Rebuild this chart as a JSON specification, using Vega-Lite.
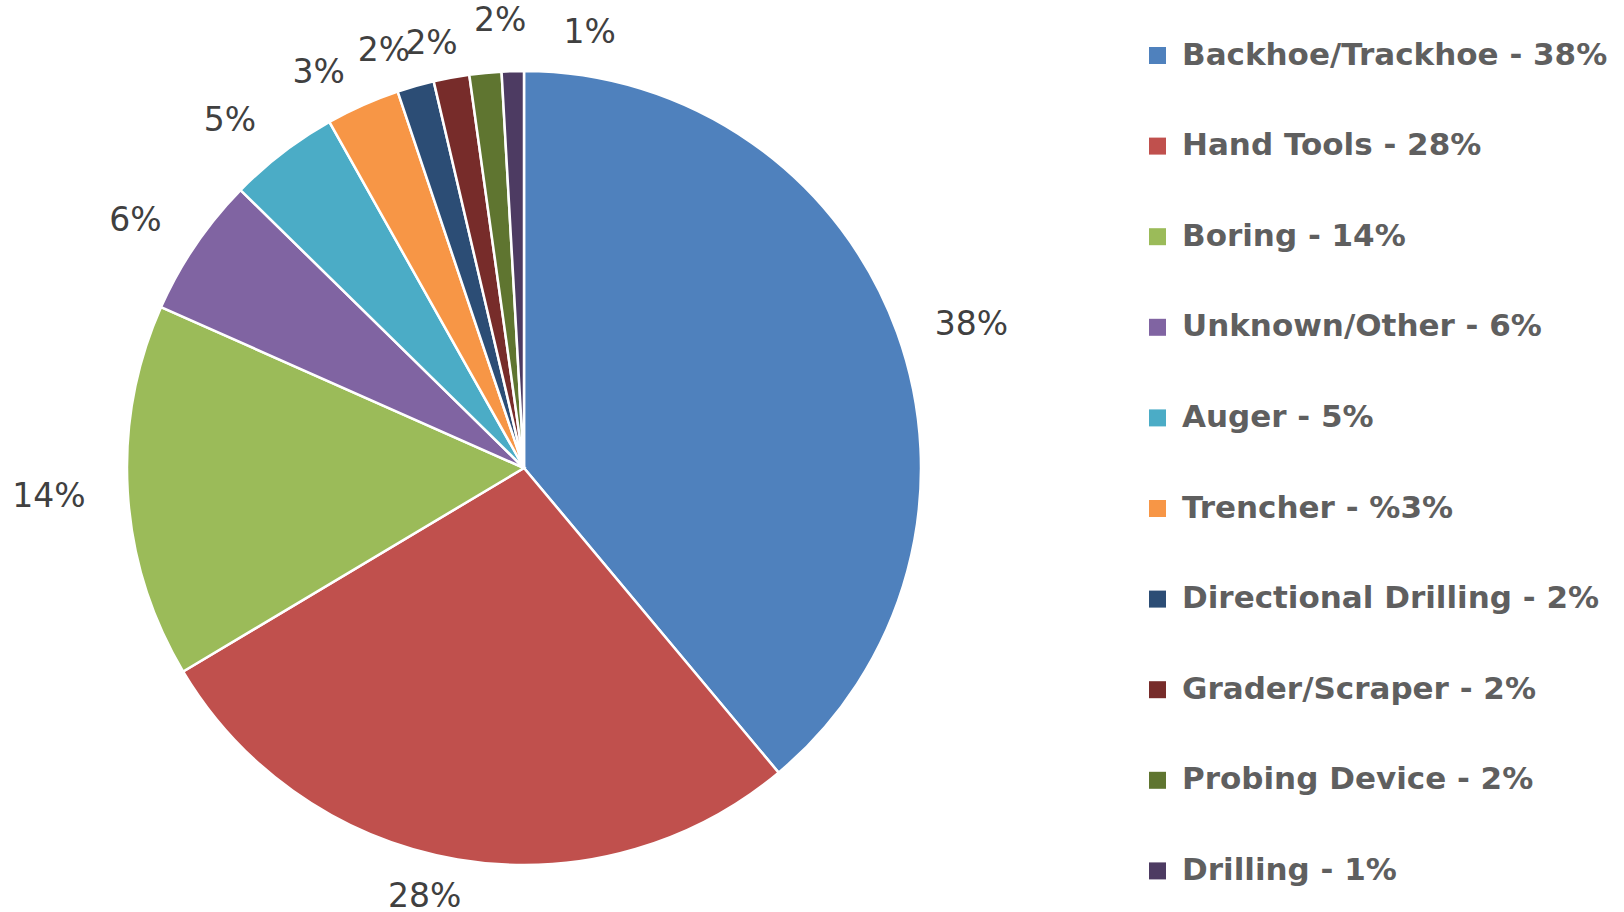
{
  "$schema": "https://vega.github.io/schema/vega-lite/v6.json",
  "width": 1048,
  "height": 936,
  "autosize": {"type": "none"},
  "padding": {"left": 0, "top": 0, "right": 576, "bottom": 0},
  "background": "white",
  "config": {"view": {"stroke": null}, "text": {"font": "DejaVu Sans", "fontSize": 33, "fill": "#404040", "align": "center", "baseline": "middle"}},
  "data": {
    "values": [
      {"rank": 1, "category": "Backhoe/Trackhoe - 38%", "value": 38.9, "label": "38%"},
      {"rank": 2, "category": "Hand Tools - 28%", "value": 27.5, "label": "28%"},
      {"rank": 3, "category": "Boring - 14%", "value": 15.2, "label": "14%"},
      {"rank": 4, "category": "Unknown/Other - 6%", "value": 5.7, "label": "6%"},
      {"rank": 5, "category": "Auger - 5%", "value": 4.5, "label": "5%"},
      {"rank": 6, "category": "Trencher - %3%", "value": 3.0, "label": "3%"},
      {"rank": 7, "category": "Directional Drilling - 2%", "value": 1.5, "label": "2%"},
      {"rank": 8, "category": "Grader/Scraper - 2%", "value": 1.45, "label": "2%"},
      {"rank": 9, "category": "Probing Device - 2%", "value": 1.3, "label": "2%"},
      {"rank": 10, "category": "Drilling - 1%", "value": 0.9, "label": "1%"}
    ]
  },
  "encoding": {
    "theta": {"field": "value", "type": "quantitative", "stack": true},
    "order": {"field": "rank", "type": "quantitative"},
    "color": {
      "field": "category",
      "type": "nominal",
      "scale": {
        "domain": ["Backhoe/Trackhoe - 38%", "Hand Tools - 28%", "Boring - 14%", "Unknown/Other - 6%", "Auger - 5%", "Trencher - %3%", "Directional Drilling - 2%", "Grader/Scraper - 2%", "Probing Device - 2%", "Drilling - 1%"],
        "range": ["#4F81BD", "#C0504D", "#9BBB59", "#8064A2", "#4BACC6", "#F79646", "#2C4D75", "#772C2A", "#5F7530", "#4D3B62"]
      },
      "legend": {
        "title": null,
        "orient": "none",
        "legendX": 1142,
        "legendY": 40,
        "padding": 0,
        "symbolType": "square",
        "symbolSize": 289,
        "symbolStrokeWidth": 0,
        "labelOffset": 9,
        "labelFont": "DejaVu Sans",
        "labelFontWeight": "bold",
        "labelFontSize": 31,
        "labelColor": "#5F5F5F",
        "labelLimit": 0,
        "rowPadding": 58.6
      }
    }
  },
  "layer": [
    {
      "mark": {"type": "arc", "outerRadius": 397, "stroke": "white", "strokeWidth": 2.5}
    },
    {
      "mark": {"type": "text", "radius": 476, "dy": 19},
      "encoding": {"text": {"condition": {"test": "datum.rank == 1", "field": "label", "type": "nominal"}, "value": ""}, "color": {"value": "#404040"}}
    },
    {
      "mark": {"type": "text", "radius": 432, "dx": -27, "dy": 3},
      "encoding": {"text": {"condition": {"test": "datum.rank == 2", "field": "label", "type": "nominal"}, "value": ""}, "color": {"value": "#404040"}}
    },
    {
      "mark": {"type": "text", "radius": 476},
      "encoding": {"text": {"condition": {"test": "datum.rank == 3", "field": "label", "type": "nominal"}, "value": ""}, "color": {"value": "#404040"}}
    },
    {
      "mark": {"type": "text", "radius": 460, "dx": -8, "dy": 11},
      "encoding": {"text": {"condition": {"test": "datum.rank == 4", "field": "label", "type": "nominal"}, "value": ""}, "color": {"value": "#404040"}}
    },
    {
      "mark": {"type": "text", "radius": 444, "dx": -24, "dy": 5},
      "encoding": {"text": {"condition": {"test": "datum.rank == 5", "field": "label", "type": "nominal"}, "value": ""}, "color": {"value": "#404040"}}
    },
    {
      "mark": {"type": "text", "radius": 444, "dx": -25, "dy": 11},
      "encoding": {"text": {"condition": {"test": "datum.rank == 6", "field": "label", "type": "nominal"}, "value": ""}, "color": {"value": "#404040"}}
    },
    {
      "mark": {"type": "text", "radius": 440, "dx": -20, "dy": 6},
      "encoding": {"text": {"condition": {"test": "datum.rank == 7", "field": "label", "type": "nominal"}, "value": ""}, "color": {"value": "#404040"}}
    },
    {
      "mark": {"type": "text", "radius": 440, "dx": -12, "dy": 9},
      "encoding": {"text": {"condition": {"test": "datum.rank == 8", "field": "label", "type": "nominal"}, "value": ""}, "color": {"value": "#404040"}}
    },
    {
      "mark": {"type": "text", "radius": 440, "dx": 19, "dy": -9},
      "encoding": {"text": {"condition": {"test": "datum.rank == 9", "field": "label", "type": "nominal"}, "value": ""}, "color": {"value": "#404040"}}
    },
    {
      "mark": {"type": "text", "radius": 440, "dx": 78, "dy": 5},
      "encoding": {"text": {"condition": {"test": "datum.rank == 10", "field": "label", "type": "nominal"}, "value": ""}, "color": {"value": "#404040"}}
    }
  ]
}
